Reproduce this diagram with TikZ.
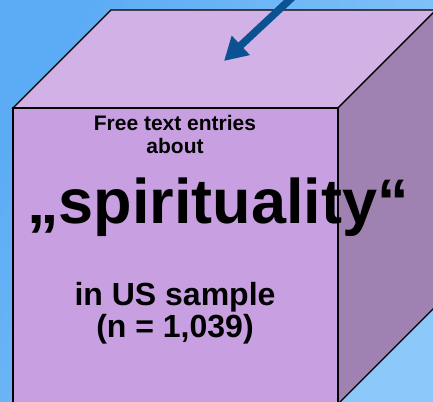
\documentclass[tikz,border=0pt]{standalone}
\usepackage{fontspec}
\setmainfont{Liberation Sans}
\usetikzlibrary{arrows.meta}
\definecolor{skyblue}{RGB}{92, 172, 245}
\definecolor{skylight}{RGB}{140, 200, 250}
\definecolor{topface}{RGB}{210, 178, 230}
\definecolor{frontface}{RGB}{200, 160, 226}
\definecolor{sideface}{RGB}{160, 130, 178}
\definecolor{arrowblue}{RGB}{10, 82, 146}

\begin{document}
\begin{tikzpicture}[x=1pt, y=-1pt,
    face/.style={draw=black, line width=1.2pt, line join=miter},
    label/.style={font=\bfseries, text=black, anchor=base, inner sep=0pt}]
        % Sky background
        \useasboundingbox (0, 0) rectangle (433, 401);
        \clip (0, 0) rectangle (433, 401);
        \shade[left color=skyblue, right color=skylight, shading angle=60] (0, 0) rectangle (433, 401);
        % Cube corners
        \coordinate (ftl) at (13, 108);
        \coordinate (ftr) at (338, 108);
        \coordinate (fbl) at (13, 404);
        \coordinate (fbr) at (338, 404);
        \coordinate (btl) at (111, 10);
        \coordinate (btr) at (436, 10);
        \coordinate (bbr) at (436, 306);
        % Cube faces
        \filldraw[face, fill=topface] (ftl) -- (btl) -- (btr) -- (ftr) -- cycle;
        \filldraw[face, fill=sideface] (ftr) -- (btr) -- (bbr) -- (fbr) -- cycle;
        \filldraw[face, fill=frontface] (ftl) -- (ftr) -- (fbr) -- (fbl) -- cycle;
        % Texts on the front face
        \node[label, font=\fontsize{21}{23}\selectfont\bfseries] (entries) at (175, 130) {Free text entries};
        \node[label, font=\fontsize{21}{23}\selectfont\bfseries] (about) at (175, 153) {about};
        \node[label, font=\fontsize{63}{66}\selectfont\bfseries] (topic) at (218, 223) {„spirituality“};
        \node[label, font=\fontsize{32}{34}\selectfont\bfseries] (sample) at (175, 305) {in US sample};
        \node[label, font=\fontsize{32}{34}\selectfont\bfseries] (size) at (175, 337) {(n = 1,039)};
        % Pointer into the top face
        \coordinate (src) at (298, -8);
        \coordinate (tgt) at (224, 61);
        \draw[-{Triangle[length=23pt, width=25pt]}, arrowblue, line width=7.5pt] (src) -- (tgt);
    \end{tikzpicture}
\end{document}
